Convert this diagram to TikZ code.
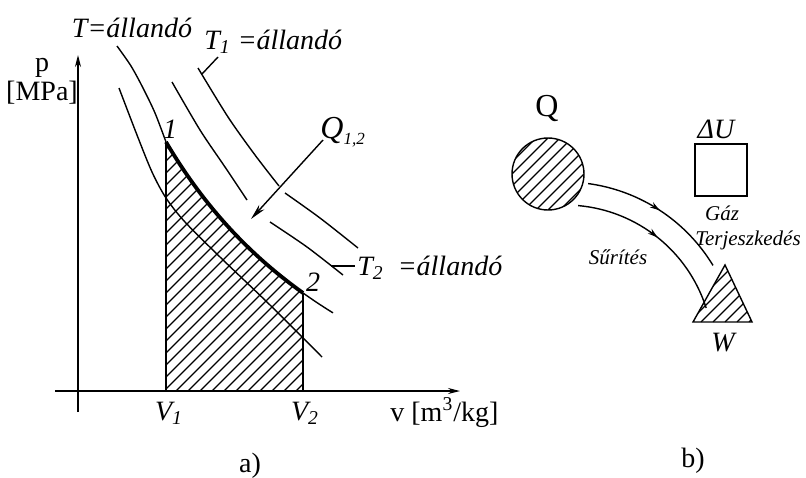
\documentclass[tikz,border=0pt]{standalone}
\usepackage{fontspec}
\setmainfont{Liberation Serif}
\usetikzlibrary{arrows.meta,decorations.markings}
\begin{document}
\begin{tikzpicture}[x=0.5pt,y=-0.5pt,
  lbl/.style={font=\fontsize{14}{16}\selectfont\itshape, inner sep=0pt},
  rlbl/.style={font=\fontsize{14}{16}\selectfont, inner sep=0pt},
  slbl/.style={font=\fontsize{10.5}{13}\selectfont\itshape, inner sep=0pt},
  curve/.style={line width=0.7pt},
  thickcurve/.style={line width=1.9pt},
  hatch/.style={line width=0.55pt},
  axis/.style={line width=0.7pt, -{Stealth[length=6pt,width=3pt]}},
  flowarc/.style={line width=0.7pt, postaction={decorate},
    decoration={markings, mark=at position 0.5 with {\arrow{Stealth[length=5pt,width=3pt]}}}},
]
\useasboundingbox (0,0) rectangle (806,477);

% ---------- panel a ----------
\coordinate (yb) at (78,412); \coordinate (yt) at (78,55);
\coordinate (xl) at (55,391); \coordinate (xr) at (460,391);
\coordinate (p1) at (166,142); \coordinate (p2) at (303,293);
\coordinate (v1) at (166,391); \coordinate (v2) at (303,391);

% hatched area
\begin{scope}
  \clip (v1) -- (p1) -- plot[domain=166:303, samples=40] (\x, {571.8-1087.52/((\x+87)/100)}) -- (v2) -- cycle;
  \foreach \k in {-100,-88,...,320} {
    \draw[hatch] (\k,391) -- (\k+280,111);
  }
\end{scope}
\draw[curve] (p1) -- (v1);
\draw[curve] (p2) -- (v2);

% axes
\draw[axis] (yb) -- (yt);
\draw[axis] (xl) -- (xr);

% isotherm T (through 1 and 2)
\draw[curve] plot[smooth] coordinates {(117,46) (131,66) (143,88) (155,113) (166,142)};
\draw[thickcurve] plot[domain=166:303, samples=40] (\x, {571.8-1087.52/((\x+87)/100)});
\draw[curve] plot[domain=303:333, samples=10] (\x, {571.8-1087.52/((\x+87)/100)});

% leftmost isotherm
\draw[curve] plot[smooth] coordinates {(119,88) (137,135) (152,172) (166,198) (185,222) (220,257) (270,305) (322,357)};

% isotherm T2 (with gap)
\draw[curve] plot[smooth] coordinates {(172,82) (200,130) (225,167) (247,200)};
\draw[curve] plot[smooth] coordinates {(270,222) (307,247) (343,275)};

% isotherm T1 (with gap)
\draw[curve] plot[smooth] coordinates {(198,68) (228,117) (255,155) (279,186)};
\draw[curve] plot[smooth] coordinates {(285,193) (320,218) (358,248)};

% leaders
\coordinate (l1a) at (202,74); \coordinate (l1b) at (218,57);
\draw[curve] (l1a) -- (l1b);
\coordinate (l2a) at (331,266); \coordinate (l2b) at (355,266);
\draw[curve] (l2a) -- (l2b);

% Q arrow
\coordinate (qa) at (323,140); \coordinate (qb) at (251,219);
\draw[curve, -{Stealth[length=8pt,width=3.5pt]}] (qa) -- (qb);

% labels a
\node[lbl, anchor=base] (tlab) at (132,37) {T=állandó};
\node[lbl, anchor=base west] (t1lab) at (204,49) {T\textsubscript{1} =állandó};
\node[lbl, anchor=base west] (t2lab) at (357,275) {T\textsubscript{2}\ \ =állandó};
\node[lbl, anchor=base west, font=\fontsize{16}{18}\selectfont\itshape] (qlab) at (320,138) {Q\raisebox{-3pt}{\fontsize{8.5}{9}\selectfont 1,2}};
\node[lbl, anchor=base] (n1) at (170,138) {1};
\node[lbl, anchor=base] (n2) at (313,291) {2};
\node[rlbl, anchor=base] (plab) at (42,71) {p};
\node[rlbl, anchor=base] (mpa) at (42,100) {[MPa]};
\node[lbl, anchor=base] (v1lab) at (169,420) {V\textsubscript{1}};
\node[lbl, anchor=base] (v2lab) at (305,420) {V\textsubscript{2}};
\node[rlbl, anchor=base west] (vlab) at (390,421) {v [m\textsuperscript{3}/kg]};
\node[rlbl, anchor=base] (alab) at (250,472) {a)};

% ---------- panel b ----------
\node[draw, circle, minimum size=36pt, inner sep=0pt, line width=0.7pt] (Qc) at (548,174) {};
\begin{scope}
  \clip (Qc.center) circle[radius=18pt];
  \foreach \k in {-60,-48,...,60} {
    \draw[hatch] (548+\k-50,224) -- (548+\k+50,124);
  }
\end{scope}
\node[draw, minimum size=26pt, inner sep=0pt, line width=0.7pt] (U) at (721,170) {};

\coordinate (ta) at (725,265); \coordinate (tb) at (693,322); \coordinate (tc) at (752,322);
\begin{scope}
  \clip (ta) -- (tb) -- (tc) -- cycle;
  \foreach \k in {-40,-28,...,70} {
    \draw[hatch] (693+\k,322) -- (693+\k+70,252);
  }
\end{scope}
\draw[line width=0.7pt] (ta) -- (tb) -- (tc) -- cycle;

\coordinate (c0) at (565,355);
\draw[flowarc] (c0) ++(-82.3:173) arc[start angle=-82.3, end angle=-31.2, radius=173];
\draw[flowarc] (c0) ++(-85:150) arc[start angle=-85, end angle=-17.7, radius=148];

\node[rlbl, anchor=base, font=\fontsize{16}{18}\selectfont] (qtext) at (547,116) {Q};
\node[lbl, anchor=base] (dU) at (716,138) {ΔU};
\node[slbl] (gaz) at (722,213) {Gáz};
\node[slbl] (terj) at (748,240) {Terjeszkedés};
\node[slbl] (surit) at (618,257) {Sűrítés};
\node[lbl] (wlab) at (723,343) {W};
\node[rlbl, anchor=base] (blab) at (693,467) {b)};
\end{tikzpicture}
\end{document}
